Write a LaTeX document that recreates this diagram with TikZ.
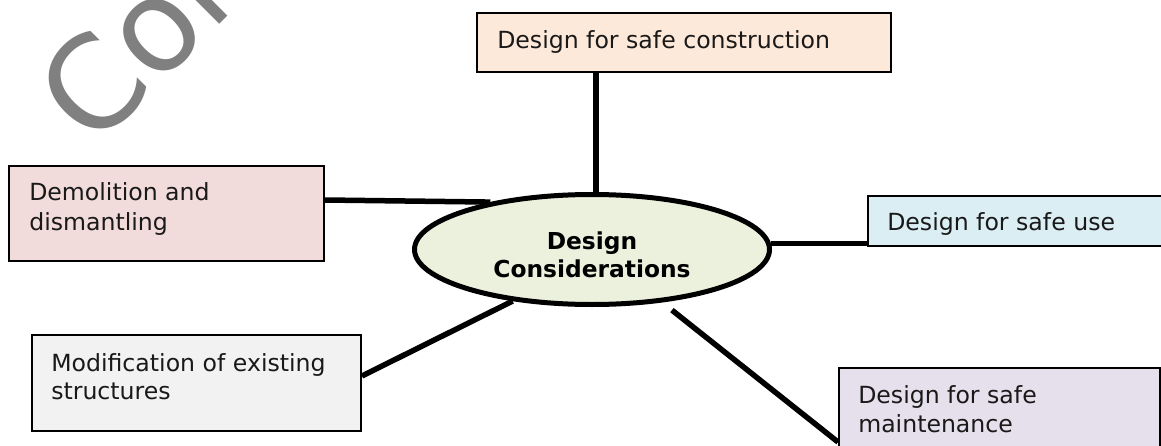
\documentclass[tikz,border=0pt]{standalone}
\usepackage{fontspec}
\setmainfont{DejaVu Sans}
\usetikzlibrary{shapes.geometric,fit,calc}
\newlength\pxu \setlength\pxu{0.75pt}
\definecolor{cPeach}{HTML}{FDE9D9}
\definecolor{cRose}{HTML}{F2DCDB}
\definecolor{cGrey}{HTML}{F2F2F2}
\definecolor{cBlue}{HTML}{DBEEF3}
\definecolor{cLav}{HTML}{E5E0EC}
\definecolor{cOlive}{HTML}{EBF1DD}
\definecolor{cWm}{HTML}{808080}
\begin{document}
\begin{tikzpicture}[x=0.75pt,y=-0.75pt,
  box/.style={draw=black,line width=1.8\pxu,inner sep=0pt},
  conn/.style={line width=5.5\pxu,draw=black},
  lbl/.style={font=\fontsize{17.7}{22}\selectfont,inner sep=0pt,anchor=base west,text=black!90},
  ctr/.style={font=\bfseries\fontsize{17.5}{21}\selectfont,inner sep=0pt,anchor=base,text=black},
  ell/.style={ellipse,draw=black,line width=5\pxu,fill=cOlive,minimum width=355\pxu,minimum height=110\pxu,inner sep=0pt},
  wm/.style={font=\fontsize{96}{100}\selectfont,text=cWm,inner sep=0pt}]
\useasboundingbox (0,0) rectangle (1161,446);
\clip (0,0) rectangle (1161,446);
\fill[white] (0,0) rectangle (1161,446);
% watermark
\node[wm,rotate=45,anchor=base west] (wmk) at (93,151) {Con};
% boxes
\node[box,fill=cPeach,fit={(477,13)(891,72)}] (bcon) {};
\node[box,fill=cRose,fit={(9,166)(324,261)}] (bdem) {};
\node[box,fill=cGrey,fit={(32,335)(361,431)}] (bmod) {};
\node[box,fill=cBlue,fit={(868,196)(1164,246)}] (buse) {};
\node[box,fill=cLav,fit={(839,368)(1160,470)}] (bmnt) {};
% central ellipse
\node[ell] (ell) at (592,249.5) {};
% labels
\node[lbl] (tcon) at (497,48) {Design for safe construction};
\node[lbl] (tdem1) at (29,200) {Demolition and};
\node[lbl] (tdem2) at (29,230) {dismantling};
\node[lbl] (tmod1) at (51,371) {Modification of existing};
\node[lbl] (tmod2) at (51,399.5) {structures};
\node[lbl] (tuse) at (887,230) {Design for safe use};
\node[lbl] (tmnt1) at (858,403) {Design for safe};
\node[lbl] (tmnt2) at (858,432) {maintenance};
\node[ctr] (tc1) at (592,249) {Design};
\node[ctr] (tc2) at (592,277) {Considerations};
% connectors
\draw[conn] ([xshift=3pt]ell.north) -- ([xshift=3pt]ell.north |- bcon.south);
\draw[conn] ($(bdem.east)+(0,-13.5)$) -- (ell.155);
\draw[conn] (ell.2) -- (ell.2 -| buse.west);
\draw[conn] ($(bmod.east)+(0,-7)$) -- (ell.213);
\draw[conn,shorten <=9.3pt] (ell.-37) -- ($(bmnt.north west)+(0,75)$);
\end{tikzpicture}
\end{document}
